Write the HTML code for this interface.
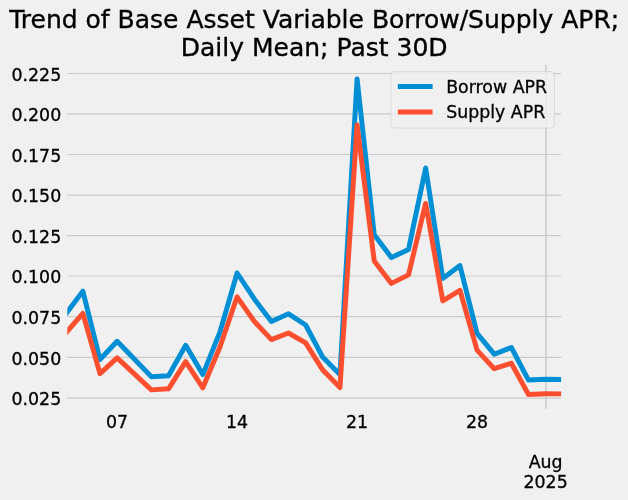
<!DOCTYPE html>
<html lang="en">
<head>
<meta charset="utf-8">
<title>Trend of Base Asset Variable Borrow/Supply APR</title>
<style>
html,body{margin:0;padding:0;background:#f0f0f0;}
body{width:628px;height:500px;overflow:hidden;}
svg{display:block;}
text{font-family:"DejaVu Sans","Liberation Sans",sans-serif;fill:#000;}
.tick{font-size:17.36px;stroke:#000;stroke-width:0.3px;}
.title{font-size:25.00px;stroke:#000;stroke-width:0.35px;}
</style>
</head>
<body>
<svg width="628" height="500" viewBox="0 0 628 500">
<rect x="0" y="0" width="628" height="500" fill="#f0f0f0"/>
<defs><clipPath id="ax"><rect x="67.30" y="64.70" width="493.80" height="343.70"/></clipPath></defs>

<g stroke="#cbcbcb" stroke-width="1.24" fill="none">
<line x1="67.3" y1="73.50" x2="561.1" y2="73.50"/>
<line x1="67.3" y1="113.90" x2="561.1" y2="113.90"/>
<line x1="67.3" y1="154.50" x2="561.1" y2="154.50"/>
<line x1="67.3" y1="195.10" x2="561.1" y2="195.10"/>
<line x1="67.3" y1="235.70" x2="561.1" y2="235.70"/>
<line x1="67.3" y1="276.00" x2="561.1" y2="276.00"/>
<line x1="67.3" y1="316.70" x2="561.1" y2="316.70"/>
<line x1="67.3" y1="357.40" x2="561.1" y2="357.40"/>
<line x1="67.3" y1="398.10" x2="561.1" y2="398.10"/>
<line x1="545.9" y1="64.7" x2="545.9" y2="408.8" stroke-width="1.5"/>
</g>
<g clip-path="url(#ax)" fill="none" stroke-width="4.96" stroke-linejoin="round" stroke-linecap="square">
<polyline stroke="#008fd5" points="65.70,314.20 82.84,291.20 99.98,359.50 117.12,341.30 134.26,359.00 151.40,376.80 168.54,375.70 185.68,345.30 202.82,374.60 219.96,332.00 237.10,273.00 254.24,298.90 271.38,321.40 288.52,313.80 305.66,325.00 322.80,357.30 339.94,374.60 357.08,78.90 374.22,234.70 391.36,257.50 408.50,249.60 425.64,167.90 442.78,278.40 459.92,265.60 477.06,333.40 494.20,354.20 511.34,347.50 528.48,380.10 545.62,379.30 562.76,379.50"/>
<polyline stroke="#fc4f30" points="65.70,333.10 82.84,313.30 99.98,373.60 117.12,357.90 134.26,373.90 151.40,389.90 168.54,388.80 185.68,361.70 202.82,387.80 219.96,347.00 237.10,296.80 254.24,321.30 271.38,339.60 288.52,333.00 305.66,342.90 322.80,370.10 339.94,387.60 357.08,124.90 374.22,260.90 391.36,283.40 408.50,274.90 425.64,203.40 442.78,300.90 459.92,290.30 477.06,350.10 494.20,368.70 511.34,363.20 528.48,394.50 545.62,393.70 562.76,393.90"/>
</g>
<g class="tick" text-anchor="end">
<text x="61.2" y="80.60">0.225</text>
<text x="61.2" y="121.00">0.200</text>
<text x="61.2" y="161.60">0.175</text>
<text x="61.2" y="202.20">0.150</text>
<text x="61.2" y="242.80">0.125</text>
<text x="61.2" y="283.10">0.100</text>
<text x="61.2" y="323.80">0.075</text>
<text x="61.2" y="364.50">0.050</text>
<text x="61.2" y="404.90">0.025</text>
</g>
<g class="tick" text-anchor="middle">
<text x="117.12" y="428.4">07</text>
<text x="237.10" y="428.4">14</text>
<text x="357.08" y="428.4">21</text>
<text x="477.06" y="428.4">28</text>
<text x="545.62" y="468.0">Aug</text>
<text x="545.62" y="487.5">2025</text>
</g>
<g class="title" text-anchor="middle">
<text x="314.2" y="27.6">Trend of Base Asset Variable Borrow/Supply APR;</text>
<text x="314.2" y="55.7">Daily Mean; Past 30D</text>
</g>
<rect x="390.9" y="71.6" width="163.5" height="56.5" rx="3.5" ry="3.5" fill="#f0f0f0" fill-opacity="0.8" stroke="#cccccc" stroke-opacity="0.8" stroke-width="0.8"/>
<line x1="397.8" y1="86.4" x2="432.6" y2="86.4" stroke="#008fd5" stroke-width="4.96"/>
<line x1="397.8" y1="112.0" x2="432.6" y2="112.0" stroke="#fc4f30" stroke-width="4.96"/>
<g class="tick"><text x="446.2" y="92.7">Borrow APR</text><text x="446.2" y="118.3">Supply APR</text></g>
</svg>
</body>
</html>
